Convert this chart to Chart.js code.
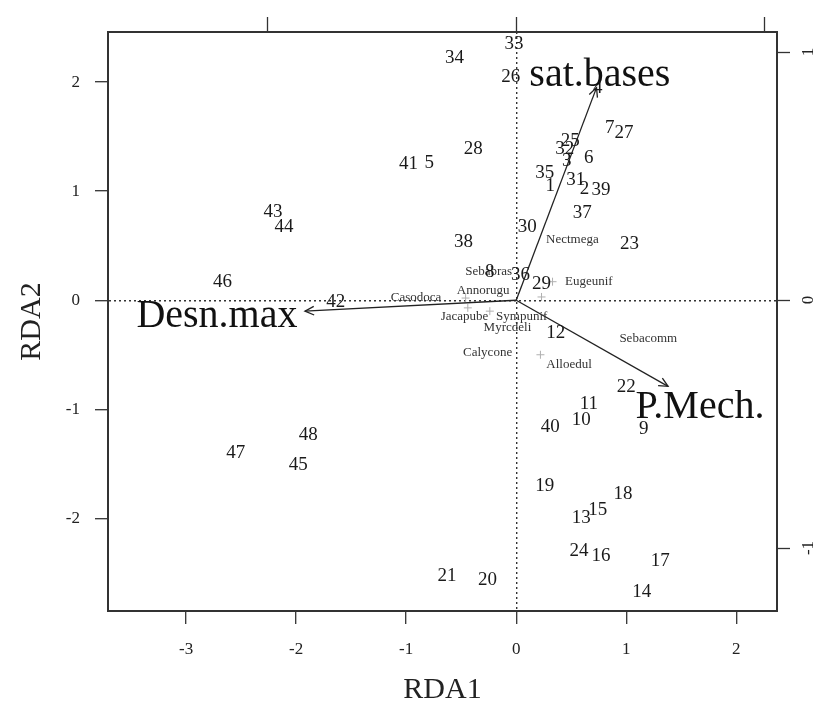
<!DOCTYPE html>
<html>
<head>
<meta charset="utf-8">
<script src="https://cdn.jsdelivr.net/npm/chart.js@4.4.1/dist/chart.umd.min.js"></script>
<style>
  body { margin: 0; background: #fff; }
  canvas { display: block; }
</style>
</head>
<body>
<canvas id="rdaPlot" width="820" height="709"></canvas>
<script>
/*******************************************************
 * DATA
 *******************************************************/
// site scores (numbers drawn as text)
const SITE_IDS = ["1","2","3","4","5","6","7","8","9","10","11","12","13","14","15","16",
  "17","18","19","20","21","22","23","24","25","26","27","28","29","30","31","32",
  "33","34","35","36","37","38","39","40","41","42","43","44","45","46","47","48"];
const SITE_X = [0.31, 0.62, 0.46, 0.74, -0.79, 0.66, 0.85, -0.24, 1.16, 0.59, 0.66, 0.36, 0.59, 1.14, 0.74, 0.77,
  1.31, 0.97, 0.26, -0.26, -0.63, 1.00, 1.03, 0.57, 0.49, -0.05, 0.98, -0.39, 0.23, 0.10, 0.54, 0.44,
  -0.02, -0.56, 0.26, 0.04, 0.60, -0.48, 0.77, 0.31, -0.98, -1.64, -2.21, -2.11, -1.98, -2.67, -2.55, -1.89];
const SITE_Y = [1.05, 1.02, 1.28, 1.95, 1.26, 1.30, 1.58, 0.26, -1.18, -1.10, -0.95, -0.30, -2.00, -2.68, -1.92, -2.35,
  -2.39, -1.78, -1.70, -2.57, -2.53, -0.80, 0.52, -2.30, 1.46, 2.05, 1.53, 1.39, 0.15, 0.67, 1.10, 1.39,
  2.35, 2.22, 1.17, 0.23, 0.80, 0.53, 1.01, -1.16, 1.25, -0.02, 0.81, 0.67, -1.51, 0.17, -1.40, -1.24];

// labelled species scores
const SPECIES_NAMES = ["Nectmega", "Sebabras", "Eugeunif", "Annorugu", "Casodoca", "Jacapube",
  "Sympunif", "Myrcdeli", "Calycone", "Alloedul", "Sebacomm"];
const SPECIES_X = [0.51, -0.25, 0.66, -0.30, -0.91, -0.47, 0.05, -0.08, -0.26, 0.48, 1.20];
const SPECIES_Y = [0.56, 0.26, 0.17, 0.09, 0.02, -0.15, -0.15, -0.25, -0.48, -0.59, -0.35];

// species shown only as "+"
const OTHER_SPECIES_X = [0.23, 0.22, -0.46, -0.44, -0.24, 0.33];
const OTHER_SPECIES_Y = [0.03, -0.50, 0.02, -0.07, -0.10, 0.17];

// environmental arrows
const ENV_NAMES = ["sat.bases", "Desn.max", "P.Mech."];
const ENV_X = [0.73, -1.92, 1.38];
const ENV_Y = [1.95, -0.10, -0.79];
const ENV_LABEL_X = [0.76, -2.72, 1.67];
const ENV_LABEL_Y = [2.06, -0.15, -0.98];

// axes
const X_TICKS = [-3, -2, -1, 0, 1, 2];
const Y_TICKS = [-2, -1, 0, 1, 2];
const X2_TICKS = [-1, 0, 1];
const Y2_TICKS = [-1, 0, 1];
const X_RANGE = [-3.71, 2.37];
const Y_RANGE = [-2.85, 2.46];
const X2_RANGE = [-1.642, 1.050];
const Y2_RANGE = [-1.254, 1.081];

/*******************************************************
 * HELPERS
 *******************************************************/
const toPoints = (xs, ys) => xs.map((x, i) => ({ x: x, y: ys[i] }));
const SERIF = "'Liberation Serif', 'Times New Roman', serif";
const INK = "#222";

// draw text labels at point positions + arrow heads
const biplotText = {
  id: "biplotText",
  afterDatasetsDraw(chart) {
    const ctx = chart.ctx;
    chart.data.datasets.forEach((ds, i) => {
      const meta = chart.getDatasetMeta(i);
      if (ds.arrow) {
        const p0 = meta.data[0], p1 = meta.data[1];
        const ang = Math.atan2(p1.y - p0.y, p1.x - p0.x);
        const len = 10, spread = Math.PI / 7;
        ctx.save();
        ctx.strokeStyle = INK;
        ctx.lineWidth = 1.3;
        ctx.beginPath();
        ctx.moveTo(p1.x - len * Math.cos(ang - spread), p1.y - len * Math.sin(ang - spread));
        ctx.lineTo(p1.x, p1.y);
        ctx.lineTo(p1.x - len * Math.cos(ang + spread), p1.y - len * Math.sin(ang + spread));
        ctx.stroke();
        ctx.restore();
      }
      if (ds.textLabels) {
        ctx.save();
        ctx.font = ds.textFont;
        ctx.fillStyle = ds.textColor || INK;
        ctx.textAlign = "center";
        ctx.textBaseline = "middle";
        meta.data.forEach((pt, j) => ctx.fillText(ds.textLabels[j], pt.x, pt.y));
        ctx.restore();
      }
    });
  }
};

function fixedSize(px, horizontal) {
  return scale => {
    if (horizontal) scale.height = px; else scale.width = px;
  };
}

function setTicks(values) {
  return scale => { scale.ticks = values.map(v => ({ value: v })); };
}

/*******************************************************
 * DATASETS
 *******************************************************/
const datasets = [];

ENV_NAMES.forEach((name, i) => {
  datasets.push({
    label: name,
    data: [{ x: 0, y: 0 }, { x: ENV_X[i], y: ENV_Y[i] }],
    showLine: true,
    borderColor: INK,
    borderWidth: 1.3,
    pointRadius: 0,
    arrow: true
  });
});

datasets.push({
  label: "other species",
  data: toPoints(OTHER_SPECIES_X, OTHER_SPECIES_Y),
  pointStyle: "cross",
  pointRadius: 4,
  borderColor: "#b0b0b0",
  borderWidth: 1
});

datasets.push({
  label: "species",
  data: toPoints(SPECIES_X, SPECIES_Y),
  pointRadius: 0,
  textLabels: SPECIES_NAMES,
  textFont: "13px " + SERIF,
  textColor: "#333"
});

datasets.push({
  label: "sites",
  data: toPoints(SITE_X, SITE_Y),
  pointRadius: 0,
  textLabels: SITE_IDS,
  textFont: "19px " + SERIF,
  textColor: "#1a1a1a"
});

datasets.push({
  label: "env labels",
  data: toPoints(ENV_LABEL_X, ENV_LABEL_Y),
  pointRadius: 0,
  textLabels: ENV_NAMES,
  textFont: "40px " + SERIF,
  textColor: "#111"
});

/*******************************************************
 * CHART
 *******************************************************/
Chart.defaults.font.family = SERIF;
Chart.defaults.color = INK;

const zeroGrid = {
  drawOnChartArea: true,
  color: c => (c.tick && c.tick.value === 0 ? "#333" : "rgba(0,0,0,0)"),
  lineWidth: 1.4,
  tickColor: "#333",
  tickWidth: 1.3,
  tickLength: 13,
  tickBorderDash: []
};
const frame = { display: true, color: "#333", width: 2, dash: [2, 3] };

new Chart(document.getElementById("rdaPlot").getContext("2d"), {
  type: "scatter",
  data: { datasets: datasets },
  plugins: [biplotText],
  options: {
    responsive: false,
    animation: false,
    layout: { padding: 0 },
    plugins: { legend: { display: false }, tooltip: { enabled: false } },
    scales: {
      x: {
        type: "linear", position: "bottom",
        min: X_RANGE[0], max: X_RANGE[1],
        afterBuildTicks: setTicks(X_TICKS),
        afterFit: fixedSize(98, true),
        grid: zeroGrid,
        border: frame,
        ticks: { padding: 15, font: { size: 17 }, color: INK },
        title: { display: true, text: "RDA1", font: { size: 30 }, color: INK, padding: { top: 0, bottom: 1 } }
      },
      y: {
        type: "linear", position: "left",
        min: Y_RANGE[0], max: Y_RANGE[1],
        afterBuildTicks: setTicks(Y_TICKS),
        afterFit: fixedSize(108, false),
        grid: zeroGrid,
        border: frame,
        ticks: { padding: 15, font: { size: 17 }, color: INK },
        title: { display: true, text: "RDA2", font: { size: 30 }, color: INK, padding: { top: 14, bottom: 0 } }
      },
      x2: {
        type: "linear", position: "top", axis: "x",
        min: X2_RANGE[0], max: X2_RANGE[1],
        afterBuildTicks: setTicks(X2_TICKS),
        afterFit: fixedSize(32, true),
        grid: { drawOnChartArea: false, tickColor: "#333", tickWidth: 1.3, tickLength: 15 },
        border: { display: true, color: "#333", width: 2 },
        ticks: { display: false }
      },
      y2: {
        type: "linear", position: "right", axis: "y",
        min: Y2_RANGE[0], max: Y2_RANGE[1],
        afterBuildTicks: setTicks(Y2_TICKS),
        afterFit: fixedSize(43, false),
        grid: { drawOnChartArea: false, tickColor: "#333", tickWidth: 1.3, tickLength: 13 },
        border: { display: true, color: "#333", width: 2 },
        ticks: { padding: 11, font: { size: 17 }, color: INK, minRotation: 90, maxRotation: 90, crossAlign: "center" }
      }
    }
  }
});
</script>
</body>
</html>
